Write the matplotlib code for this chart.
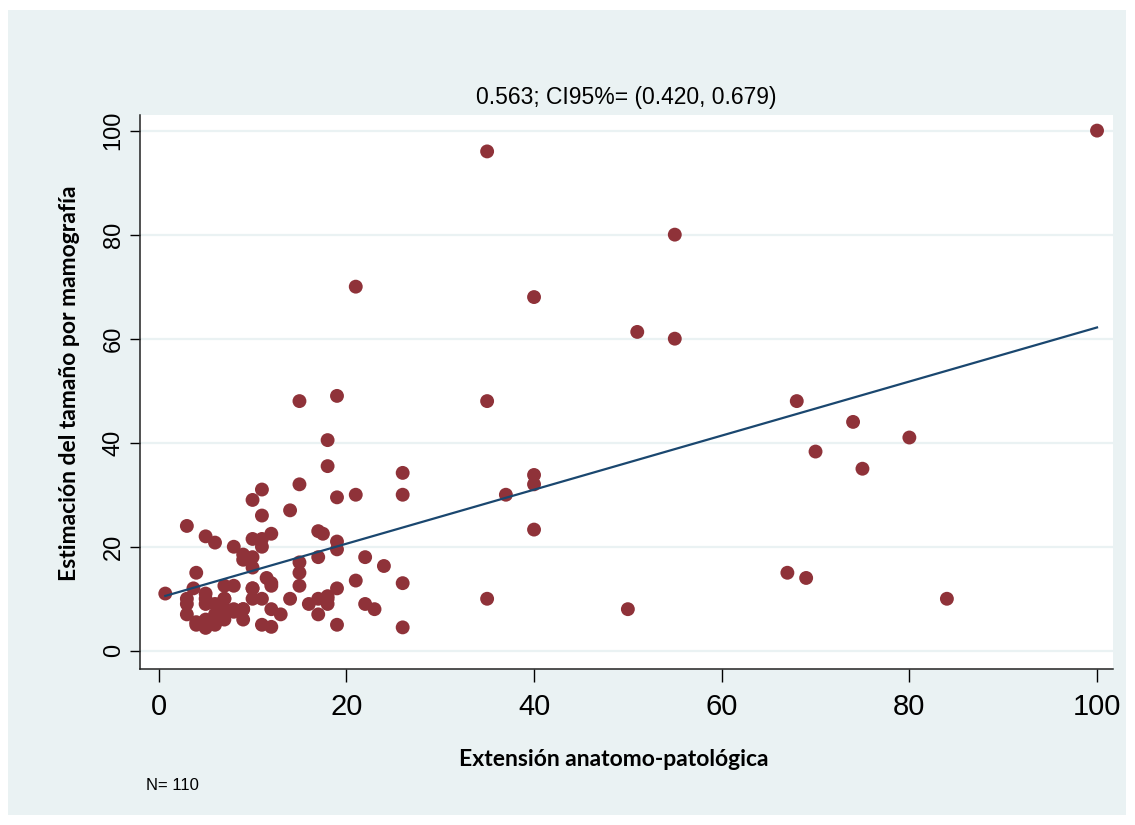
import numpy as np
import matplotlib
matplotlib.use("Agg")
import matplotlib.pyplot as plt
from matplotlib.patches import Rectangle

# Extension anatomo-patologica (x) vs estimacion por mamografia (y)
ext_ap = [0.7, 3, 3, 3, 3, 4, 3.7, 4, 5, 6, 5, 5, 5, 5, 6, 6, 7, 7, 7, 7,
          8, 8, 8, 9, 9, 9, 9, 10, 10, 10, 10, 10, 10, 11, 11, 11, 11, 11, 11, 11.5,
          12, 12, 12, 12, 13, 14, 14, 15, 15, 15, 15, 15, 16, 17, 17, 17, 17, 17.5, 18, 18,
          18, 18, 19, 19, 19, 19, 19, 19, 21, 21, 22, 22, 23, 24, 26, 26, 26, 26,
          5, 6, 7, 8, 10, 9, 6, 4, 12, 18,
          100, 35, 55, 21, 40, 51, 55, 35, 68, 74, 80, 70, 75, 40, 40, 37, 40, 35, 50, 67,
          69, 84]
mamo = [11, 24, 10, 9, 7, 15, 12, 5, 22, 20.8, 11, 9, 6, 4.4, 5, 7, 8, 6, 10, 12.5,
        20, 12.5, 8, 18.5, 17.5, 8, 6, 29, 21.5, 18, 16, 12, 10, 31, 26, 21.5, 20, 10, 5, 14,
        22.5, 12.5, 8, 4.6, 7, 27, 10, 48, 32, 17, 15, 12.5, 9, 23, 18, 10, 7, 22.5, 40.5, 35.5,
        10, 9, 49, 29.5, 21, 19.5, 12, 5, 30, 13.5, 18, 9, 8, 16.3, 34.2, 30, 13, 4.5,
        10, 9, 10, 7.5, 12, 8, 5.5, 5.5, 13, 10.5,
        100, 96, 80, 70, 68, 61.3, 60, 48, 48, 44, 41, 38.3, 35, 33.8, 32, 30, 23.3, 10, 8, 15,
        14, 10]

title_txt = "0.563; CI95%= (0.420, 0.679)"
xticks = [0, 20, 40, 60, 80, 100]
yticks = [0, 20, 40, 60, 80, 100]

x = np.array(ext_ap)
y = np.array(mamo)
# linear fit over the observed range
b1, b0 = np.polyfit(x, y, 1)
xf = np.array([x.min(), x.max()])
yf = b0 + b1 * xf

narrow = ['Liberation Sans Narrow', 'Liberation Sans']
bg = '#EAF2F3'

fig = plt.figure(figsize=(11.35, 8.25), dpi=100)
fig.patches.append(Rectangle((0.007, 0.012), 0.985, 0.976, transform=fig.transFigure,
                             facecolor=bg, edgecolor='none', zorder=-10))
ax = fig.add_axes([0.1233, 0.1891, 0.8573, 0.6715])
ax.set_facecolor('white')

ax.scatter(x, y, s=100, color='#8F3239', edgecolors='none', zorder=3)
ax.plot(xf, yf, color='#1A476F', lw=1.6, zorder=4)

ax.set_xlim(-2, 101.7)
ax.set_ylim(-3.5, 103)
ax.set_xticks(xticks)
ax.set_yticks(yticks)
ax.grid(axis='y', color=bg, lw=1.6)
ax.set_axisbelow(True)

for s in ['top', 'right']:
    ax.spines[s].set_visible(False)
for s in ['left', 'bottom']:
    ax.spines[s].set_linewidth(1.1)
    ax.spines[s].set_color('#222222')

ax.tick_params(axis='x', length=9, width=1, pad=8)
ax.tick_params(axis='y', length=7, width=1, pad=4)
for lab in ax.get_xticklabels():
    lab.set_fontfamily(narrow)
    lab.set_fontsize(21)
for lab in ax.get_yticklabels():
    lab.set_fontfamily(narrow)
    lab.set_fontsize(17)
    lab.set_rotation(90)
    lab.set_va('center')

ax.set_title(title_txt, family=narrow, fontsize=16.5, pad=8)
ax.set_xlabel("Extensión anatomo-patológica", family='Lato', fontweight='bold',
              fontsize=16.5)
ax.set_ylabel("Estimación del tamaño por mamografía", family='Lato', fontweight='bold',
              fontsize=16.5)
ax.xaxis.set_label_coords(0.487, -0.144)
ax.yaxis.set_label_coords(-0.062, 0.516)
fig.text(0.129, 0.042, "N= 110", family=narrow, fontsize=12)

fig.savefig("out.png", dpi=100)
